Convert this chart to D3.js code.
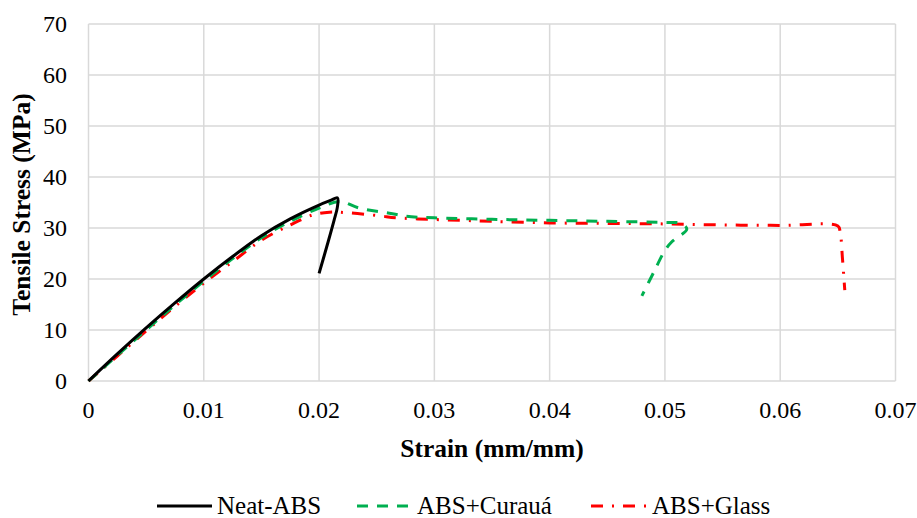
<!DOCTYPE html>
<html>
<head>
<meta charset="utf-8">
<script src="https://cdn.jsdelivr.net/npm/d3@7"></script>
<style>
  body { margin: 0; background: #fff; }
  text { font-family: "Liberation Serif", "Times New Roman", serif; fill: #000; }
</style>
</head>
<body>
<script>
// values
const neatStrain = [0, 0.0025, 0.005, 0.0075, 0.01, 0.0125, 0.015, 0.0175, 0.02, 0.0210, 0.0216, 0.02158, 0.0213, 0.0208, 0.0200];
const neatStress = [0, 5.3, 10.4, 15.3, 20.0, 24.4, 28.5, 31.8, 34.5, 35.4, 35.9, 34.0, 31.5, 27.4, 21.1];

const curauaStrain = [0, 0.0025, 0.005, 0.0075, 0.01, 0.0125, 0.015, 0.0175, 0.02, 0.0218, 0.0235, 0.0261, 0.028, 0.030, 0.035, 0.040, 0.045, 0.050, 0.0514, 0.0519, 0.0506, 0.0500, 0.0490, 0.0480];
const curauaStress = [0, 5.0, 10.0, 14.9, 19.6, 24.0, 28.1, 31.3, 33.9, 35.2, 33.9, 32.9, 32.2, 32.0, 31.7, 31.5, 31.3, 31.1, 30.9, 29.8, 27.3, 25.6, 21.2, 16.7];

const glassStrain = [0, 0.0025, 0.005, 0.0075, 0.01, 0.0125, 0.015, 0.0175, 0.0195, 0.0209, 0.0224, 0.0252, 0.0267, 0.0296, 0.0324, 0.035, 0.040, 0.045, 0.050, 0.055, 0.060, 0.0650, 0.0652, 0.0654, 0.0656];
const glassStress = [0, 4.9, 9.8, 14.6, 19.2, 23.4, 27.6, 30.6, 32.6, 33.1, 33.0, 32.4, 32.0, 31.7, 31.5, 31.3, 31.0, 30.9, 30.8, 30.6, 30.5, 30.4, 29.2, 24.0, 17.8];

const xTicks = [0, 0.01, 0.02, 0.03, 0.04, 0.05, 0.06, 0.07];
const yTicks = [0, 10, 20, 30, 40, 50, 60, 70];

const seriesNames = ["Neat-ABS", "ABS+Curauá", "ABS+Glass"];

const width = 917, height = 518;
const plot = { left: 88.5, right: 895.5, top: 24, bottom: 381 };

const svg = d3.select('body')
    .append('svg')
    .attr('width', width)
    .attr('height', height);

const x = d3.scaleLinear().domain([0, 0.07]).range([plot.left, plot.right]);
const y = d3.scaleLinear().domain([0, 70]).range([plot.bottom, plot.top]);

// gridlines
svg.append('g')
    .selectAll('line.vgrid')
    .data(xTicks)
    .enter()
    .append('line')
    .attr('x1', d => x(d)).attr('x2', d => x(d))
    .attr('y1', plot.top).attr('y2', plot.bottom)
    .style('stroke', '#d9d9d9')
    .style('stroke-width', 1.5);

svg.append('g')
    .selectAll('line.hgrid')
    .data(yTicks)
    .enter()
    .append('line')
    .attr('x1', plot.left).attr('x2', plot.right)
    .attr('y1', d => y(d)).attr('y2', d => y(d))
    .style('stroke', '#d9d9d9')
    .style('stroke-width', 1.5);

// tick labels
svg.append('g')
    .selectAll('text')
    .data(yTicks)
    .enter()
    .append('text')
    .attr('x', 67)
    .attr('y', d => y(d) + 8)
    .attr('text-anchor', 'end')
    .style('font-size', '24px')
    .text(d => d);

svg.append('g')
    .selectAll('text')
    .data(xTicks)
    .enter()
    .append('text')
    .attr('x', d => x(d))
    .attr('y', 418)
    .attr('text-anchor', 'middle')
    .style('font-size', '24px')
    .text(d => d);

// axis titles
svg.append('text')
    .attr('transform', `translate(30, ${(plot.top + plot.bottom) / 2 + 2}) rotate(-90)`)
    .attr('text-anchor', 'middle')
    .style('font-size', '25.5px')
    .style('font-weight', 'bold')
    .text('Tensile Stress (MPa)');

svg.append('text')
    .attr('x', 492)
    .attr('y', 457)
    .attr('text-anchor', 'middle')
    .style('font-size', '25.5px')
    .style('font-weight', 'bold')
    .text('Strain (mm/mm)');

// curves
const line = d3.line()
    .x(d => x(d[0]))
    .y(d => y(d[1]))
    .curve(d3.curveCatmullRom.alpha(0.5));

const series = [
    { name: seriesNames[0], pts: d3.zip(neatStrain, neatStress), color: '#000000', dash: null },
    { name: seriesNames[1], pts: d3.zip(curauaStrain, curauaStress), color: '#00b050', dash: '11,9' },
    { name: seriesNames[2], pts: d3.zip(glassStrain, glassStress), color: '#ff0000', dash: '12,9,2,9' }
];

// draw glass first, curaua, then neat on top
[series[2], series[1], series[0]].forEach(s => {
    svg.append('path')
        .attr('d', line(s.pts))
        .style('fill', 'none')
        .style('stroke', s.color)
        .style('stroke-width', 3)
        .style('stroke-dasharray', s.dash);
});

// legend
const legendX = [157, 357, 591];
const legend = svg.selectAll('.legend')
    .data(series)
    .enter()
    .append('g')
    .classed('legend', true)
    .attr('transform', (d, i) => `translate(${legendX[i]}, 506)`);

legend.append('line')
    .attr('x1', 0).attr('x2', 55)
    .attr('y1', 0).attr('y2', 0)
    .style('stroke', d => d.color)
    .style('stroke-width', 3)
    .style('stroke-dasharray', d => d.dash);

legend.append('text')
    .attr('x', (d, i) => i == 2 ? 61 : 60)
    .attr('y', 8)
    .style('font-size', '25px')
    .text(d => d.name);
</script>
</body>
</html>
